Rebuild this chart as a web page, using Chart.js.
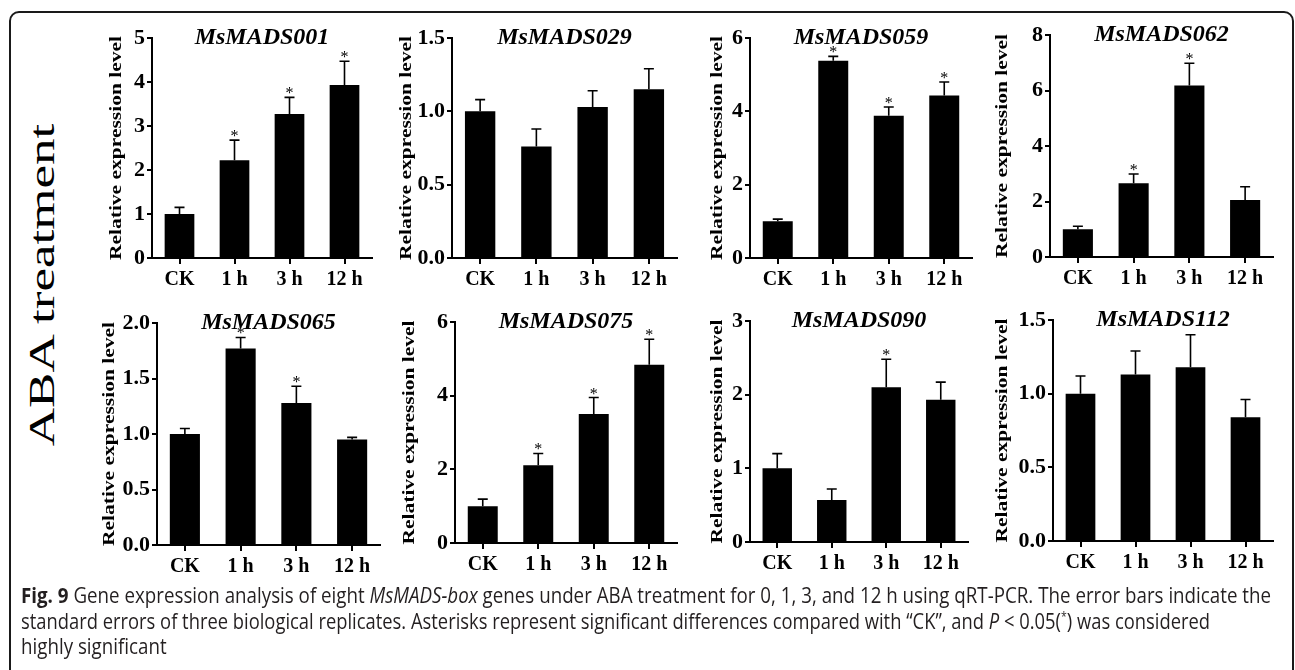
<!DOCTYPE html>
<html>
<head>
<meta charset="utf-8">
<script src="https://cdn.jsdelivr.net/npm/chart.js@4.4.0/dist/chart.umd.min.js"></script>
<style>
    html, body { margin: 0; padding: 0; background: #fff; }
    body { width: 1295px; height: 670px; position: relative; overflow: hidden; }
    .frame {
        position: absolute; left: 9px; top: 11px; width: 1285px; height: 720px;
        box-sizing: border-box; border: 2px solid #1a1a1a; border-radius: 10px;
    }
    .panel { position: absolute; }
    .side-label {
        position: absolute; left: 42px; top: 285px;
        font: 53px 'Liberation Serif', serif; line-height: 1; white-space: nowrap; color: #000;
        transform: translate(-50%, -50%) rotate(-90deg) scaleY(0.68);
    }
    .caption-line {
        position: absolute; left: 21px;
        font: 21px 'Open Sans', sans-serif; line-height: 25.5px; color: #231f20;
        white-space: nowrap; transform-origin: 0 0;
    }
    .caption-line b { font-weight: 700; }
</style>
</head>
<body>
<div class="frame"></div>
<div class="side-label">ABA treatment</div>
<div id="charts"></div>
<div class="caption-line" id="cap1" style="top:583px"><b>Fig. 9</b> Gene expression analysis of eight <i>MsMADS-box</i> genes under ABA treatment for 0, 1, 3, and 12 h using qRT-PCR. The error bars indicate the</div>
<div class="caption-line" id="cap2" style="top:608.5px">standard errors of three biological replicates. Asterisks represent significant differences compared with “CK”, and <i>P</i> &lt; 0.05(<sup style="font-size:12px;line-height:0">*</sup>) was considered</div>
<div class="caption-line" id="cap3" style="top:634px">highly significant</div>

<script>
const timeLabels = ['CK', '1 h', '3 h', '12 h'];
const geneNames = ['MsMADS001', 'MsMADS029', 'MsMADS059', 'MsMADS062',
                   'MsMADS065', 'MsMADS075', 'MsMADS090', 'MsMADS112'];
const yMax = [5, 1.5, 6, 8, 2, 6, 3, 1.5];
const yStep = [1, 0.5, 2, 2, 0.5, 2, 1, 0.5];

// mean relative expression, standard error and significance per time point
const mads001Mean = [1.00, 2.22, 3.27, 3.93];
const mads001Se   = [0.15, 0.46, 0.38, 0.54];
const mads001Sig  = ['', '*', '*', '*'];

const mads029Mean = [1.00, 0.76, 1.03, 1.15];
const mads029Se   = [0.08, 0.12, 0.11, 0.14];
const mads029Sig  = ['', '', '', ''];

const mads059Mean = [1.00, 5.38, 3.88, 4.43];
const mads059Se   = [0.06, 0.12, 0.24, 0.37];
const mads059Sig  = ['', '*', '*', '*'];

const mads062Mean = [1.00, 2.66, 6.18, 2.05];
const mads062Se   = [0.11, 0.33, 0.80, 0.48];
const mads062Sig  = ['', '*', '*', ''];

const mads065Mean = [1.00, 1.77, 1.28, 0.95];
const mads065Se   = [0.05, 0.10, 0.15, 0.02];
const mads065Sig  = ['', '*', '*', ''];

const mads075Mean = [1.00, 2.11, 3.50, 4.84];
const mads075Se   = [0.19, 0.32, 0.45, 0.69];
const mads075Sig  = ['', '*', '*', '*'];

const mads090Mean = [1.00, 0.57, 2.10, 1.93];
const mads090Se   = [0.20, 0.15, 0.38, 0.24];
const mads090Sig  = ['', '', '*', ''];

const mads112Mean = [1.00, 1.13, 1.18, 0.84];
const mads112Se   = [0.12, 0.16, 0.22, 0.12];
const mads112Sig  = ['', '', '', ''];

const means = [mads001Mean, mads029Mean, mads059Mean, mads062Mean, mads065Mean, mads075Mean, mads090Mean, mads112Mean];
const errors = [mads001Se, mads029Se, mads059Se, mads062Se, mads065Se, mads075Se, mads090Se, mads112Se];
const marks = [mads001Sig, mads029Sig, mads059Sig, mads062Sig, mads065Sig, mads075Sig, mads090Sig, mads112Sig];

// page position of each plot area (axis corner) and of its y title baseline
const plotBoxes = [
    { left: 152, top: 38, right: 372, bottom: 258, titleX: 121 },
    { left: 452, top: 38, right: 677, bottom: 258, titleX: 411 },
    { left: 750, top: 38, right: 972, bottom: 258, titleX: 722 },
    { left: 1050, top: 35, right: 1273, bottom: 257, titleX: 1007 },
    { left: 157, top: 323, right: 380, bottom: 545, titleX: 114 },
    { left: 455, top: 322, right: 677, bottom: 543, titleX: 414 },
    { left: 750, top: 321, right: 968, bottom: 542, titleX: 722 },
    { left: 1053, top: 320, right: 1273, bottom: 541, titleX: 1007 }
];

const PAD_TOP = 32;
const X_AXIS_H = 44;
const PAD_RIGHT = 6;
const SERIF = "'Liberation Serif', 'Times New Roman', serif";

// error bars, asterisks, gene name and rotated y title
const panelDecor = {
    id: 'panelDecor',
    afterDatasetsDraw(chart, args, opts) {
        const ctx = chart.ctx;
        const area = chart.chartArea;
        const yScale = chart.scales.y;
        const bars = chart.getDatasetMeta(0).data;

        ctx.save();
        ctx.strokeStyle = '#000';
        ctx.fillStyle = '#000';
        ctx.lineWidth = 1.6;
        ctx.textAlign = 'center';
        bars.forEach((bar, i) => {
            const capY = yScale.getPixelForValue(opts.means[i] + opts.errors[i]);
            ctx.beginPath();
            ctx.moveTo(bar.x, bar.y);
            ctx.lineTo(bar.x, capY);
            ctx.moveTo(bar.x - 5, capY);
            ctx.lineTo(bar.x + 5, capY);
            ctx.stroke();
            if (opts.marks[i]) {
                ctx.font = '16px ' + SERIF;
                ctx.textBaseline = 'alphabetic';
                ctx.fillText(opts.marks[i], bar.x, capY + 1);
            }
        });

        ctx.font = 'italic bold 24px ' + SERIF;
        ctx.textBaseline = 'alphabetic';
        ctx.fillText(opts.gene, (area.left + area.right) / 2, area.top + 6);

        ctx.translate(opts.titleX, (area.top + area.bottom) / 2);
        ctx.rotate(-Math.PI / 2);
        ctx.scale(1, 0.8);
        ctx.font = 'bold 21.5px ' + SERIF;
        ctx.fillText('Relative expression level', 0, 0);
        ctx.restore();
    }
};

function createPanel(i) {
    const box = plotBoxes[i];
    const canvasLeft = box.titleX - 22;
    const yAxisW = box.left - canvasLeft;
    const plotW = box.right - box.left;
    const plotH = box.bottom - box.top;
    const width = yAxisW + plotW + PAD_RIGHT;
    const height = PAD_TOP + plotH + X_AXIS_H;

    const holder = document.createElement('div');
    holder.className = 'panel';
    holder.style.left = canvasLeft + 'px';
    holder.style.top = (box.top - PAD_TOP) + 'px';
    const canvas = document.createElement('canvas');
    canvas.width = width;
    canvas.height = height;
    canvas.style.width = width + 'px';
    canvas.style.height = height + 'px';
    holder.appendChild(canvas);
    document.getElementById('charts').appendChild(holder);

    const step = yStep[i];
    new Chart(canvas, {
        type: 'bar',
        data: {
            labels: timeLabels,
            datasets: [{
                data: means[i],
                backgroundColor: '#000',
                borderWidth: 0,
                barPercentage: 0.54,
                categoryPercentage: 1.0
            }]
        },
        options: {
            responsive: false,
            animation: false,
            devicePixelRatio: 1,
            layout: { padding: { top: PAD_TOP, right: PAD_RIGHT, left: 0, bottom: 0 } },
            plugins: {
                legend: { display: false },
                tooltip: { enabled: false },
                panelDecor: {
                    gene: geneNames[i],
                    means: means[i],
                    errors: errors[i],
                    marks: marks[i],
                    titleX: box.titleX - canvasLeft
                }
            },
            scales: {
                x: {
                    afterFit: s => { s.height = X_AXIS_H; },
                    border: { display: true, color: '#000', width: 2 },
                    grid: { display: true, offset: false, drawOnChartArea: false, drawTicks: true,
                            tickLength: 6, color: '#000', lineWidth: 2 },
                    ticks: { color: '#000', padding: 4, maxRotation: 0,
                             font: { family: SERIF, size: 20, weight: 'bold' } }
                },
                y: {
                    min: 0,
                    max: yMax[i],
                    afterFit: s => { s.width = yAxisW; },
                    border: { display: true, color: '#000', width: 2 },
                    grid: { display: true, drawOnChartArea: false, drawTicks: true,
                            tickLength: 5, color: '#000', lineWidth: 2 },
                    ticks: {
                        stepSize: step,
                        color: '#000',
                        padding: 2,
                        font: { family: SERIF, size: 22, weight: 'bold' },
                        callback: v => step < 1 ? v.toFixed(1) : String(v)
                    }
                }
            }
        },
        plugins: [panelDecor]
    });
}

for (let i = 0; i < geneNames.length; i++) {
    createPanel(i);
}

// squeeze caption lines to the condensed widths of the original
function fitLine(id, targetWidth) {
    const el = document.getElementById(id);
    const s = targetWidth / el.getBoundingClientRect().width;
    el.style.transform = 'scaleX(' + s + ')';
    return s;
}
const capScale = fitLine('cap1', 1250);
fitLine('cap2', 1189);
document.getElementById('cap3').style.transform = 'scaleX(' + capScale + ')';
</script>
</body>
</html>
